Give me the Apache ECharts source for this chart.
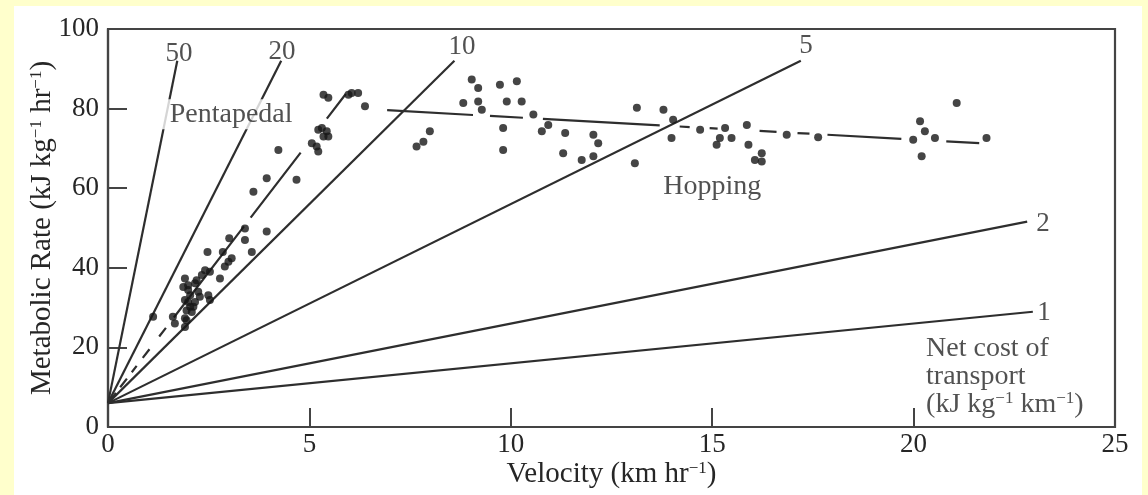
<!DOCTYPE html>
<html><head><meta charset="utf-8">
<script src="https://cdn.jsdelivr.net/npm/echarts@6/dist/echarts.min.js"></script>
<style>html,body{margin:0;padding:0;background:#ffffcc}#c{width:1148px;height:495px}</style>
</head><body><div id="c"></div>
<script>
// ---- data ----
const xTicks = [0, 5, 10, 15, 20, 25];
const yTicks = [0, 20, 40, 60, 80, 100];
// net cost of transport lines (kJ kg-1 km-1), all starting from the resting rate
const costLabels = ['50', '20', '10', '5', '2', '1'];
const lineStartVelocity = 0;
const lineStartRate = 6;
const lineEndVelocity = [1.72, 4.3, 8.6, 17.2, 22.82, 22.96];
const lineEndRate = [92, 92, 92, 92, 51.6, 28.95];
// trend lines
const pentapedalTrend = [[0, 6], [5.92, 83.9]];
const hoppingTrend = [[6.93, 79.6], [21.65, 71.3]];
// measured points (velocity, metabolic rate)
const pentapedalPoints = [
  [1.12,27.7],[1.61,27.7],[1.66,26.0],[1.91,27.3],[1.91,25.1],[1.95,29.3],[1.91,31.9],[1.99,31.4],
  [2.04,33.1],[1.91,37.3],[1.99,34.4],[2.16,36.1],[2.20,36.9],[2.24,34.0],[2.28,32.7],[2.12,30.2],
  [2.08,28.9],[2.33,38.2],[2.41,39.4],[2.53,39.0],[2.49,33.1],[2.53,31.9],[2.47,44.0],[2.85,44.0],
  [2.78,37.3],[2.90,40.3],[2.99,41.5],[3.07,42.4],[3.01,47.4],[3.40,49.9],[3.40,47.0],[3.57,44.0],
  [3.94,49.1],[4.23,69.6],[3.94,62.5],[3.61,59.1],[4.68,62.1],[5.06,71.3],[5.18,70.5],[5.22,69.2],
  [5.22,74.7],[5.31,75.1],[5.43,74.3],[5.47,73.0],[5.35,73.0],[5.35,83.5],[5.47,82.7],[5.97,83.5],
  [6.05,83.9],[6.21,83.9],[6.38,80.6],[1.87,35.2],[1.99,35.6],[2.16,31.4],[1.95,26.8],[2.04,30.2]
];
const hoppingPoints = [
  [9.03,87.3],[9.19,85.2],[8.82,81.4],[9.19,81.8],[9.28,79.7],[9.73,86.0],[10.15,86.9],[9.90,81.8],
  [10.27,81.8],[9.81,75.1],[9.81,69.6],[10.56,78.5],[10.77,74.3],[10.93,75.9],[11.35,73.9],[11.30,68.8],
  [11.76,67.1],[12.05,68.0],[12.05,73.4],[12.17,71.3],[7.66,70.5],[7.83,71.7],[7.99,74.3],[13.13,80.2],
  [13.08,66.3],[13.79,79.7],[14.03,77.2],[13.99,72.6],[14.70,74.7],[15.32,75.1],[15.19,72.6],[15.11,70.9],
  [15.48,72.6],[15.86,75.9],[15.90,70.9],[16.06,67.1],[16.23,68.8],[16.23,66.7],[16.85,73.4],[17.63,72.8],
  [20.16,76.8],[20.28,74.3],[19.99,72.2],[20.53,72.6],[20.20,68.0],[21.07,81.4],[21.81,72.6]
];
// text annotations (anchor in data units)
const annotationTexts = ['50', '20', '10', '5', '2', '1', 'Pentapedal', 'Hopping',
  'Net cost of\ntransport\n(kJ kg{s|\u22121} km{s|\u22121})'];
const annotationX = [1.76, 4.32, 8.79, 17.33, 23.21, 23.24, 3.02, 15.0, 20.31];
const annotationY = [93.8, 94.3, 95.6, 95.8, 51.1, 28.6, 78.6, 60.3, 12.7];
const xTitle = 'Velocity (km hr{s|\u22121})';
const yTitle = 'Metabolic Rate (kJ kg{s|\u22121} hr{s|\u22121})';

// ---- styles ----
const FONT = "'Liberation Serif','DejaVu Serif',serif";
const INK = '#262626';
const LINE = '#2e2e2e';
const FS = 27;
const FS_WORD = 28;
const FS_TITLE = 29;
const rich = { s: { fontFamily: FONT, fontSize: 17, color: INK, verticalAlign: 'top', lineHeight: 16 } };

const chart = echarts.init(document.getElementById('c'), null, { renderer: 'canvas' });

const series = [];
costLabels.forEach((lab, i) => {
  series.push({
    type: 'line', name: 'cost ' + lab, silent: true, symbol: 'none', z: 2,
    data: [[lineStartVelocity, lineStartRate], [lineEndVelocity[i], lineEndRate[i]]],
    lineStyle: { color: LINE, width: 2.2 }
  });
});
series.push({
  type: 'line', name: 'pentapedal trend', silent: true, symbol: 'none', z: 2,
  data: pentapedalTrend,
  lineStyle: { color: LINE, width: 2.2,
    type: [13, 7, 11, 8, 8, 10, 11, 16, 11, 13, 115, 11, 82, 43, 31, 10] }
});
series.push({
  type: 'line', name: 'hopping trend', silent: true, symbol: 'none', z: 2,
  data: hoppingTrend,
  lineStyle: { color: LINE, width: 2.2,
    type: [86, 17, 33, 20, 117, 20, 10, 20, 8, 42, 17, 21, 12, 18, 74, 45, 33, 10] }
});
series.push({
  type: 'scatter', name: 'Pentapedal', symbolSize: 8, z: 3,
  itemStyle: { color: '#161616' }, data: pentapedalPoints
});
series.push({
  type: 'scatter', name: 'Hopping', symbolSize: 8, z: 3,
  itemStyle: { color: '#161616' }, data: hoppingPoints
});
series.push({
  type: 'scatter', name: 'annotations', symbolSize: 0, z: 10, silent: true,
  data: annotationTexts.map((t, i) => {
    const isBlock = i === annotationTexts.length - 1;
    const isWord = i >= 6;
    const isPenta = t === 'Pentapedal';
    return {
      value: [annotationX[i], annotationY[i]],
      label: {
        show: true,
        formatter: t,
        position: isBlock ? 'right' : 'inside',
        distance: 0,
        align: isBlock ? 'left' : 'center',
        fontFamily: FONT, fontSize: isWord ? FS_WORD : FS, color: INK,
        lineHeight: isBlock ? 28 : 30,
        backgroundColor: isPenta ? '#ffffff' : 'transparent',
        padding: isPenta ? [0, 6, 0, 9] : 0,
        rich: rich
      }
    };
  })
});

chart.setOption({
  animation: false,
  backgroundColor: '#ffffcc',
  graphic: [{
    type: 'rect', z: -10, silent: true,
    shape: { x: 14, y: 6, width: 1128, height: 489 },
    style: { fill: '#ffffff' }
  }],
  grid: { left: 108, right: 33, top: 29, bottom: 68, show: true,
    borderColor: '#444', borderWidth: 2.2, backgroundColor: 'transparent' },
  xAxis: {
    type: 'value', min: xTicks[0], max: xTicks[xTicks.length - 1], interval: xTicks[1] - xTicks[0],
    splitLine: { show: false },
    axisLine: { lineStyle: { color: '#444', width: 2.2 } },
    axisTick: { inside: true, length: 19, lineStyle: { color: '#444', width: 2 } },
    axisLabel: { fontFamily: FONT, fontSize: FS, color: INK, margin: 4 },
    name: xTitle, nameLocation: 'middle', nameGap: 33, nameMoveOverlap: false,
    nameTextStyle: { fontFamily: FONT, fontSize: FS_TITLE, color: INK, rich: rich }
  },
  yAxis: {
    type: 'value', min: yTicks[0], max: yTicks[yTicks.length - 1], interval: yTicks[1] - yTicks[0],
    splitLine: { show: false },
    axisLine: { lineStyle: { color: '#444', width: 2.2 } },
    axisTick: { inside: true, length: 19, lineStyle: { color: '#444', width: 2 } },
    axisLabel: { fontFamily: FONT, fontSize: FS, color: INK, margin: 9 },
    name: yTitle, nameLocation: 'middle', nameGap: 51, nameMoveOverlap: false,
    nameTextStyle: { fontFamily: FONT, fontSize: FS_TITLE, color: INK, rich: rich }
  },
  series: series
});
</script>
</body></html>
